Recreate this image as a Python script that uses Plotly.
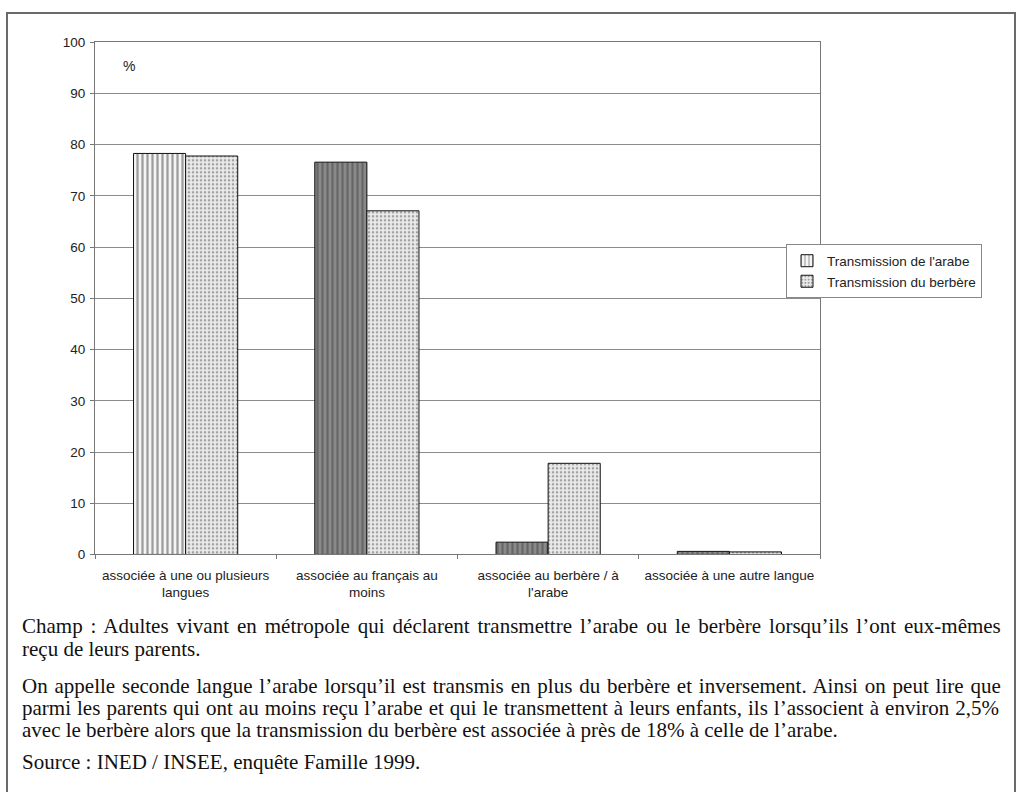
import plotly.graph_objects as go

W, H = 1019, 794

categories = [
    "associée à une ou plusieurs<br>langues",
    "associée au français au<br>moins",
    "associée au berbère / à<br>l'arabe",
    "associée à une autre langue",
]
arabe = [78.3, 76.6, 2.4, 0.6]
berbere = [77.8, 67.1, 17.8, 0.5]
series_names = ["Transmission de l'arabe", "Transmission du berbère"]
y_ticks = list(range(0, 101, 10))

# (text, row centre in px, extra word spacing in px for justified rows)
notes = [
    ("Champ : Adultes vivant en métropole qui déclarent transmettre l’arabe ou le berbère lorsqu’ils l’ont eux-mêmes", 631, 2.7),
    ("reçu de leurs parents.", 654, 0),
    ("On appelle seconde langue l’arabe lorsqu’il est transmis en plus du berbère et inversement. Ainsi on peut lire que", 692, 1.6),
    ("parmi les parents qui ont au moins reçu l’arabe et qui le transmettent à leurs enfants, ils l’associent à environ 2,5%", 715, 0.8),
    ("avec le berbère alors que la transmission du berbère est associée à près de 18% à celle de l’arabe.", 737, 0),
    ("Source : INED / INSEE, enquête Famille 1999.", 770, 0),
]


def px(x):
    return x / W


def py(y):
    return 1 - y / H


fig = go.Figure()
fig.add_trace(go.Bar(
    x=categories, y=arabe, name=series_names[0],
    marker=dict(
        color=["#f4f4f4", "#8a8a8a", "#8a8a8a", "#8a8a8a"],
        line=dict(color="#111", width=1),
        pattern=dict(shape="|", size=5, solidity=0.45,
                     fgcolor=["#8c8c8c", "#2a2a2a", "#2a2a2a", "#2a2a2a"],
                     bgcolor=["#f4f4f4", "#8a8a8a", "#8a8a8a", "#8a8a8a"],
                     fillmode="overlay"),
    ),
))
fig.add_trace(go.Bar(
    x=categories, y=berbere, name=series_names[1],
    marker=dict(
        color="#e6e6e6",
        line=dict(color="#111", width=1),
        pattern=dict(shape=".", size=4, solidity=0.35,
                     fgcolor="#555", bgcolor="#ececec", fillmode="overlay"),
    ),
))

# page frame around the chart and notes
fig.add_shape(type="path", xref="paper", yref="paper",
              path=f"M {px(7)} {py(800)} L {px(7)} {py(6)} L {px(1015)} {py(6)} L {px(1015)} {py(800)}",
              line=dict(color="#6a6a6a", width=2))

fig.add_annotation(text="%", xref="paper", yref="paper", x=px(121), y=py(60),
                   xanchor="left", yanchor="middle", showarrow=False,
                   font=dict(family="Arial, Liberation Sans", size=14, color="#222"))

for txt, ypix, ws in notes:
    label = f'<span style="word-spacing:{ws}px">{txt}</span>' if ws else txt
    fig.add_annotation(text=label, xref="paper", yref="paper", x=px(20), y=py(ypix),
                       xanchor="left", yanchor="middle", showarrow=False,
                       font=dict(family="Times New Roman, Liberation Serif", size=21, color="#111"))

fig.update_layout(
    width=W, height=H,
    margin=dict(l=0, r=0, t=0, b=0),
    paper_bgcolor="white", plot_bgcolor="white",
    barmode="group", bargap=0.425, bargroupgap=0,
    font=dict(family="Arial, Liberation Sans", size=13.5, color="#222"),
    legend=dict(x=px(786), y=py(242), xanchor="left", yanchor="top",
                bordercolor="#888", borderwidth=1, bgcolor="white",
                font=dict(size=13.5, color="#222"), tracegroupgap=0,
                itemwidth=30),
    xaxis=dict(domain=[px(95), px(820)], showline=True, linecolor="#777",
               linewidth=1, mirror=True, ticks="outside", tickson="boundaries",
               ticklen=4, tickcolor="#777", tickangle=0, showgrid=False,
               ticklabelstandoff=8),
    yaxis=dict(domain=[py(558), py(36)], range=[0, 100], tickvals=y_ticks,
               showline=True, linecolor="#777", linewidth=1, mirror=True,
               ticks="outside", ticklen=4, tickcolor="#777",
               gridcolor="#8c8c8c", gridwidth=1, zeroline=False,
               ticklabelstandoff=2),
)

fig.write_html("out.html")
